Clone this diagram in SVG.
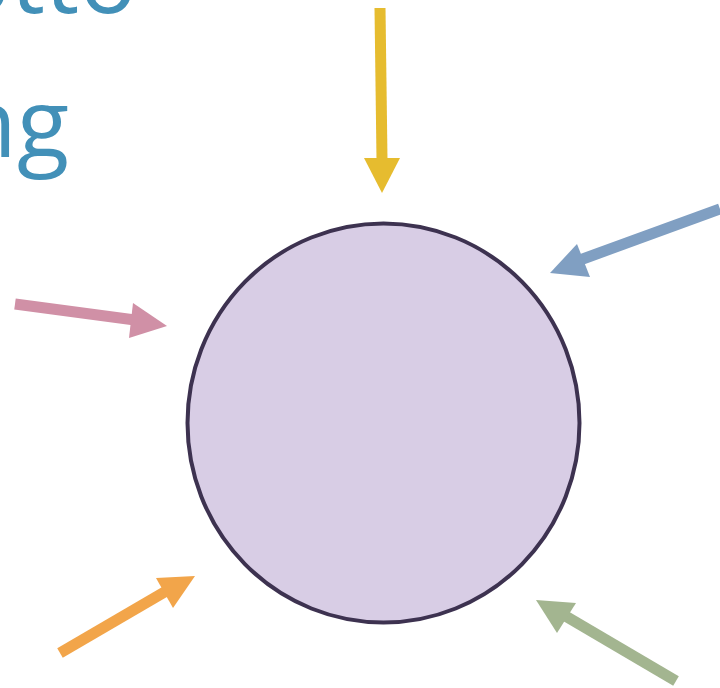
<svg xmlns="http://www.w3.org/2000/svg" width="720" height="688" viewBox="0 0 720 688">
  <style>
    .title { font-family: "Open Sans", "Noto Sans", sans-serif; font-size: 96px; fill: #4290B8; }
    .node { fill: #D8CDE5; stroke: #3D3250; stroke-width: 4; }
  </style>
  <rect width="720" height="688" fill="#FFFFFF"/>
  <g id="title">
    <text class="title" x="137" y="13" text-anchor="end">otto</text>
    <text class="title" x="69" y="157" text-anchor="end">ng</text>
  </g>
  <g id="hub">
    <ellipse class="node" cx="383.5" cy="423" rx="196" ry="199.5"/>
  </g>
  <g id="connectors">
    <!-- top (yellow) -->
    <path d="M380 8 L382 160" stroke="#E6BC2F" stroke-width="11" fill="none"/>
    <polygon points="364,158 400,158 382,193" fill="#E6BC2F"/>
    <!-- upper right (blue) -->
    <path d="M720 209 L580 260" stroke="#809FC2" stroke-width="11" fill="none"/>
    <polygon points="550,273 577,244 590,277" fill="#809FC2"/>
    <!-- left (pink) -->
    <path d="M15 304 L135 320" stroke="#D090A6" stroke-width="11" fill="none"/>
    <polygon points="167,326 133,303 129,338" fill="#D090A6"/>
    <!-- lower left (orange) -->
    <path d="M60 653 L168 590" stroke="#F2A54A" stroke-width="11" fill="none"/>
    <polygon points="195,576 156,578 173,608" fill="#F2A54A"/>
    <!-- lower right (green) -->
    <path d="M676 681 L562 614" stroke="#A3B590" stroke-width="11" fill="none"/>
    <polygon points="536,600 576,603 557,633" fill="#A3B590"/>
  </g>
</svg>
